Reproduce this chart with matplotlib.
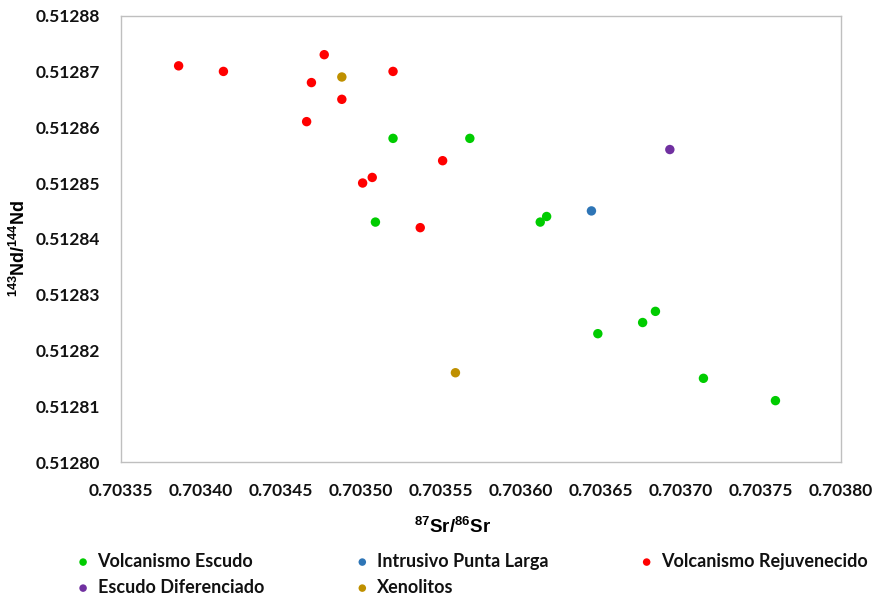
import matplotlib
matplotlib.use('Agg')
import matplotlib.pyplot as plt

# Isotope ratios per group: 87Sr/86Sr (x) and 143Nd/144Nd (y)
escudo_sr = [0.703520, 0.703568, 0.703509, 0.703616, 0.703612,
             0.703648, 0.703676, 0.703684, 0.703714, 0.703759]
escudo_nd = [0.512858, 0.512858, 0.512843, 0.512844, 0.512843,
             0.512823, 0.512825, 0.512827, 0.512815, 0.512811]

punta_larga_sr = [0.703644]
punta_larga_nd = [0.512845]

rejuv_sr = [0.703386, 0.703414, 0.703477, 0.703469, 0.703488, 0.703466,
            0.703520, 0.703551, 0.703501, 0.703507, 0.703537]
rejuv_nd = [0.512871, 0.512870, 0.512873, 0.512868, 0.512865, 0.512861,
            0.512870, 0.512854, 0.512850, 0.512851, 0.512842]

diferenciado_sr = [0.703693]
diferenciado_nd = [0.512856]

xenolitos_sr = [0.703488, 0.703559]
xenolitos_nd = [0.512869, 0.512816]

x_ticks = [0.70335 + 0.00005 * i for i in range(10)]
y_ticks = [0.51280 + 0.00001 * i for i in range(9)]

plt.rcParams['mathtext.default'] = 'regular'

fig = plt.figure(figsize=(8.77, 5.96), dpi=100)
ax = fig.add_axes([0.138, 0.2248, 0.821, 0.749])

series = [
    ('Volcanismo Escudo', escudo_sr, escudo_nd, '#00CC00'),
    ('Escudo Diferenciado', diferenciado_sr, diferenciado_nd, '#7030A0'),
    ('Intrusivo Punta Larga', punta_larga_sr, punta_larga_nd, '#2E75B6'),
    ('Xenolitos', xenolitos_sr, xenolitos_nd, '#BF9000'),
    ('Volcanismo Rejuvenecido', rejuv_sr, rejuv_nd, '#FF0000'),
]
for label, xs, ys, color in series:
    ax.scatter(xs, ys, s=46, color=color, edgecolors='none', label=label, zorder=3)

ax.set_xlim(0.70335, 0.70380)
ax.set_ylim(0.51280, 0.51288)
ax.set_xticks(x_ticks)
ax.set_yticks(y_ticks)
ax.set_xticklabels([f'{v:.5f}' for v in x_ticks])
ax.set_yticklabels([f'{v:.5f}' for v in y_ticks])
ax.tick_params(length=0, labelsize=12.5)
ax.tick_params(axis='x', pad=15)
ax.tick_params(axis='y', pad=15)
for lbl in ax.get_xticklabels() + ax.get_yticklabels():
    lbl.set_fontfamily('Lato')
    lbl.set_fontweight('bold')
    lbl.set_color('#111111')

for spine in ax.spines.values():
    spine.set_color('#BFBFBF')
    spine.set_linewidth(1.0)

ax.set_xlabel('$^{87}$Sr/$^{86}$Sr', fontsize=13.5, fontweight='bold',
              fontfamily='Liberation Sans')
ax.set_ylabel('$^{143}$Nd/$^{144}$Nd', fontsize=13, fontweight='bold',
              fontfamily='Liberation Sans')
ax.xaxis.set_label_coords(0.46, -0.123)
ax.yaxis.set_label_coords(-0.128, 0.479)

leg = fig.legend(loc='lower left', bbox_to_anchor=(0.069, -0.027), ncol=3,
                 frameon=False, markerscale=0.8, handlelength=0.7,
                 handletextpad=0.45, columnspacing=5.1, labelspacing=0.5,
                 prop={'family': 'Lato', 'weight': 'bold', 'size': 13})
for t in leg.get_texts():
    t.set_color('#111111')

fig.savefig('out.png', dpi=100)
